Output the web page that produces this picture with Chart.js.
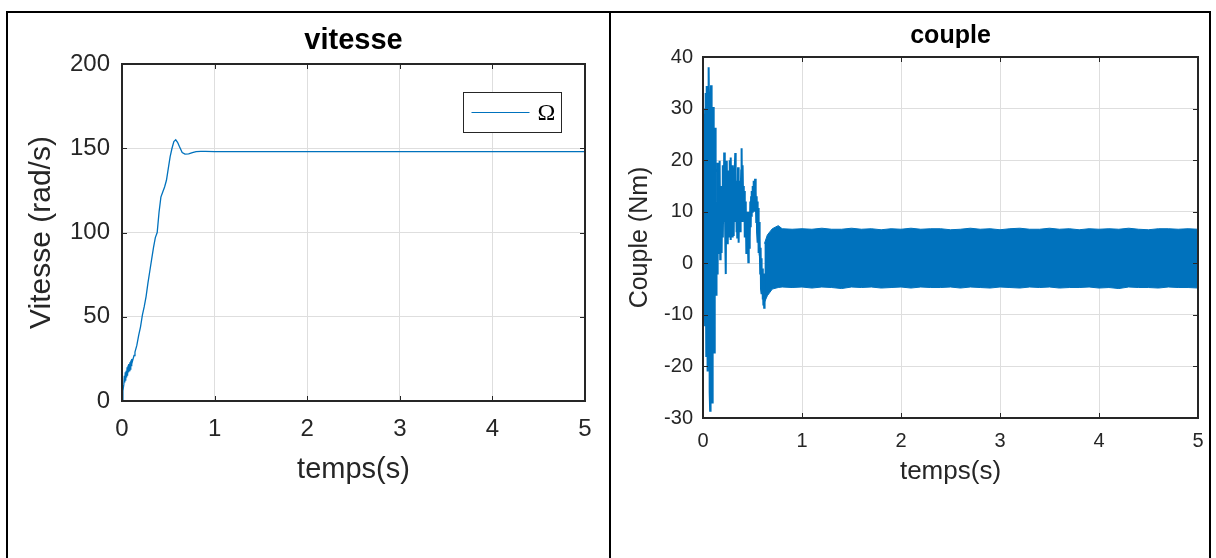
<!DOCTYPE html>
<html><head><meta charset="utf-8">
<script src="https://cdn.jsdelivr.net/npm/chart.js@4.4.1/dist/chart.umd.min.js"></script>
<style>
html,body{margin:0;padding:0;background:#fff;}
#wrap{position:relative;width:1216px;height:558px;overflow:hidden;background:#fff;}
canvas{position:absolute;top:0;}
.ln{position:absolute;background:#000;}
</style></head><body>
<div id="wrap">
<canvas id="c1" width="610" height="558" style="left:0"></canvas>
<canvas id="c2" width="606" height="558" style="left:610px"></canvas>
<div class="ln" style="left:6px;top:11px;width:1205px;height:2px"></div>
<div class="ln" style="left:6px;top:11px;width:2px;height:547px"></div>
<div class="ln" style="left:609px;top:11px;width:2px;height:547px"></div>
<div class="ln" style="left:1209px;top:11px;width:2px;height:547px"></div>
</div>
<script>
// ---- data ----
const xTicks = [0, 1, 2, 3, 4, 5];
const yTicksSpeed = [0, 50, 100, 150, 200];
const yTicksTorque = [-30, -20, -10, 0, 10, 20, 30, 40];
const speedLabel = 'Ω';

// speed (rad/s) vs time (s)
const tS = [0,0.01,0.02,0.025,0.03,0.035,0.04,0.045,0.05,0.055,
  0.06,0.065,0.07,0.075,0.08,0.085,0.09,0.095,0.10,0.105,
  0.11,0.12,0.13,0.14,0.16,0.18,0.20,0.22,0.24,0.26,
  0.28,0.30,0.32,0.34,0.36,0.38,0.40,0.42,0.44,0.46,
  0.48,0.50,0.52,0.54,0.56,0.58,0.60,0.62,0.65,0.68,
  0.72,0.76,0.80,0.85,0.90,1.0,1.5,2.0,2.5,3.0,
  3.5,4.0,4.5,5.0];
const vS = [0,6,10,15,11,17,12,18,14,20,
  15,21,17,22,18,23,19,24,21,25,
  23,25,27,29,33,39,44,51,56,62,
  70,77,84,91,97,100,112,121,124,127,
  131,138,145,150,154,155,153.5,151,147.5,146.5,
  146.6,147.4,148,148.2,148.1,148,148,148,148,148,
  148,148,148,148];

// torque transient (Nm) vs time (s): start-up part
const tT0 = [0,0.003,0.006,0.009,0.012,0.015,0.018,0.021,0.024,0.027,
  0.030,0.033,0.036,0.039,0.042,0.045,0.048,0.051,0.054,0.057,
  0.060,0.063,0.066,0.069,0.072,0.075,0.078,0.081,0.084,0.087,
  0.090,0.093,0.096,0.099,0.102,0.105,0.108,0.111,0.114,0.117,
  0.120,0.123,0.126,0.129,0.132,0.135,0.138];
const vT0 = [0,30,8,-10,25,29,-5,-12,20,33,
  10,-18,20,34.4,5,-21,10,30,22,-8,
  38,25,-12,-25,-28.6,10,30,34.5,5,-15,
  -22,-27,10,25,30.3,15,-8,-14,-17.3,5,
  18,22,26.3,12,0,-6.3,8];
// torque transient: oscillating part before steady state
const tT1 = [0.142,0.146,0.150,0.154,0.158,0.162,0.166,0.170,0.174,0.178,
  0.182,0.186,0.190,0.194,0.198,0.202,0.206,0.210,0.214,0.218,
  0.222,0.226,0.230,0.234,0.238,0.242,0.246,0.250,0.254,0.258,
  0.262,0.266,0.270,0.274,0.278,0.282,0.286,0.290,0.294,0.298,
  0.302,0.306,0.310,0.314,0.318,0.322,0.326,0.330,0.334,0.338,
  0.342,0.346,0.350,0.354,0.358,0.362,0.366,0.370,0.374,0.378,
  0.382,0.386,0.390,0.394,0.398,0.402,0.406,0.410,0.414,0.418,
  0.422,0.426,0.430,0.434,0.438,0.442,0.446,0.450,0.454,0.458,
  0.462,0.466,0.470,0.474,0.478,0.482,0.486,0.490,0.494,0.498,
  0.502,0.506,0.510,0.514,0.518,0.522,0.526,0.530,0.534,0.538,
  0.542,0.546,0.550,0.554,0.558,0.562,0.566,0.570,0.574,0.578,
  0.582,0.586,0.590,0.594,0.598,0.602,0.606,0.610,0.614,0.618,
  0.622];
const vT1 = [-2,19.5,8,2,14,7,17,19.9,0.8,12,
  6,15,2,13,19,5,14,8,21.5,9,
  15,3,-2.1,13,10,19.9,7,3.7,15,18,
  5,13,20,9,4.5,20.5,11,7,16,5,
  19,9,5.3,14,10,18,21.4,8,13,6,
  16,5,12,18.6,9,4,14,8,16,6,
  13,18,22.3,12,8,19,11,15,10.8,14,
  5,12,7,11,2,9,4,10,6,0.2,
  8,3,10,5,12,7,13,9,14,10,
  15,11,16,12,15,10,16.4,11,14,8,
  13,6,12,4,10.7,2,8,1.5,5,-2,
  3,-5,1,-6,-1,-7,-3,-8,-5,-8.6,
  -2];

// torque steady ripple band: upper / lower envelope (Nm)
const tB = [0.62,0.65,0.70,0.76,0.80,0.9,1.0,1.1,1.2,1.3,
  1.4,1.5,1.6,1.7,1.8,1.9,2.0,2.1,2.2,2.3,
  2.4,2.5,2.6,2.7,2.8,2.9,3.0,3.1,3.2,3.3,
  3.4,3.5,3.6,3.7,3.8,3.9,4.0,4.1,4.2,4.3,
  4.4,4.5,4.6,4.7,4.8,4.9,5.0];
const bandTop = [3.8,5.5,6.7,7.3,6.7,6.6,6.7,6.6,6.8,6.6,
  6.6,6.8,6.6,6.7,6.5,6.7,6.6,6.8,6.6,6.7,
  6.7,6.5,6.6,6.8,6.6,6.7,6.5,6.7,6.8,6.6,
  6.6,6.8,6.6,6.7,6.5,6.7,6.6,6.7,6.6,6.8,
  6.6,6.5,6.7,6.7,6.6,6.7,6.6];
const bandBot = [-7.6,-6.3,-5.0,-4.7,-4.6,-4.7,-4.6,-4.8,-4.6,-4.7,
  -4.9,-4.6,-4.7,-4.6,-4.8,-4.7,-4.6,-4.8,-4.6,-4.7,
  -4.7,-4.6,-4.8,-4.6,-4.7,-4.8,-4.6,-4.7,-4.8,-4.6,
  -4.7,-4.6,-4.8,-4.7,-4.7,-4.6,-4.8,-4.7,-4.9,-4.6,
  -4.7,-4.7,-4.8,-4.6,-4.7,-4.7,-4.8];

// ---- styling ----
const FF = '"Liberation Sans", Arial, Helvetica, sans-serif';
const BLUE = '#0072BD';
const GRID = '#dedede';
const AX = '#262626';

const framePlugin = {
  id: 'frame',
  afterDraw(chart, args, o) {
    const {ctx, chartArea: a, scales: {x, y}} = chart;
    ctx.save();
    ctx.strokeStyle = AX;
    ctx.lineWidth = 1;
    const L = o.len || 5;
    ctx.beginPath();
    x.ticks.forEach(t => {
      const px = Math.round(x.getPixelForValue(t.value)) + 0.5;
      ctx.moveTo(px, a.bottom); ctx.lineTo(px, a.bottom - L);
      ctx.moveTo(px, a.top); ctx.lineTo(px, a.top + L);
    });
    y.ticks.forEach(t => {
      const py = Math.round(y.getPixelForValue(t.value)) + 0.5;
      ctx.moveTo(a.left, py); ctx.lineTo(a.left + L, py);
      ctx.moveTo(a.right, py); ctx.lineTo(a.right - L, py);
    });
    ctx.stroke();
    ctx.lineWidth = 2;
    ctx.strokeRect(a.left, a.top, a.right - a.left, a.bottom - a.top);
    ctx.restore();
  }
};

const boxLegend = {
  id: 'boxLegend',
  afterDraw(chart, args, o) {
    if (!o || !o.show) return;
    const {ctx, chartArea: a} = chart;
    const ds = chart.data.datasets[0];
    const w = 98, h = 40;
    const x0 = Math.round(a.right - o.right - w) + 0.5, y0 = Math.round(a.top + o.top) + 0.5;
    ctx.save();
    ctx.fillStyle = '#fff';
    ctx.fillRect(x0, y0, w, h);
    ctx.strokeStyle = AX; ctx.lineWidth = 1;
    ctx.strokeRect(x0, y0, w, h);
    ctx.strokeStyle = ds.borderColor; ctx.lineWidth = 1.2;
    ctx.beginPath(); ctx.moveTo(x0 + 8, y0 + 20); ctx.lineTo(x0 + 66, y0 + 20); ctx.stroke();
    ctx.fillStyle = '#000';
    ctx.font = '24px "Liberation Serif", "Times New Roman", serif';
    ctx.textBaseline = 'middle'; ctx.textAlign = 'left';
    ctx.fillText(ds.label, x0 + 74, y0 + 21);
    ctx.restore();
  }
};

function pts(ts, vs) { return ts.map((t, i) => ({x: t, y: vs[i]})); }

function makeChart(id, c) {
  return new Chart(document.getElementById(id), {
    type: 'line',
    data: {datasets: c.datasets},
    options: {
      responsive: false, animation: false, devicePixelRatio: 1,
      layout: {padding: {left: 0, right: c.padRight, top: 0, bottom: 0}},
      elements: {point: {radius: 0}},
      plugins: {
        legend: {display: false}, tooltip: {enabled: false},
        title: {display: true, text: c.title, fullSize: false, color: '#000',
          font: {family: FF, size: c.titleSize, weight: 'bold', lineHeight: 1.2},
          padding: {top: c.titlePadTop, bottom: c.titlePadBottom}},
        frame: {len: 5},
        boxLegend: c.legend || {show: false}
      },
      scales: {
        x: {
          type: 'linear', min: 0, max: 5,
          afterBuildTicks: s => { s.ticks = xTicks.map(v => ({value: v})); },
          afterFit: s => { s.height = c.xH; },
          grid: {color: GRID, drawTicks: false, lineWidth: 1},
          border: {display: false},
          ticks: {color: AX, font: {family: FF, size: c.tickSize}, padding: c.xTickPad, maxRotation: 0, autoSkip: false},
          title: {display: true, text: 'temps(s)', color: AX, font: {family: FF, size: c.xLabSize, lineHeight: 1.2},
            padding: {top: 0, bottom: c.xTitlePadBottom}}
        },
        y: {
          type: 'linear', min: c.yMin, max: c.yMax,
          afterBuildTicks: s => { s.ticks = c.yTicks.map(v => ({value: v})); },
          afterFit: s => { s.width = c.yW; },
          grid: {color: GRID, drawTicks: false, lineWidth: 1},
          border: {display: false},
          ticks: {color: AX, font: {family: FF, size: c.tickSize}, padding: c.yTickPad, autoSkip: false},
          title: {display: true, text: c.yTitle, color: AX, font: {family: FF, size: c.yLabSize, lineHeight: 1.2},
            padding: {top: c.yTitlePadTop, bottom: 0}}
        }
      }
    },
    plugins: [framePlugin, boxLegend]
  });
}

makeChart('c1', {
  title: 'vitesse', titleSize: 29, titlePadTop: 23.6, titlePadBottom: 5.6,
  padRight: 25, xH: 157, yW: 122,
  tickSize: 24, xLabSize: 29, yLabSize: 30, xTickPad: 14, yTickPad: 12,
  xTitlePadBottom: 70.6, yTitlePadTop: 24,
  yMin: 0, yMax: 200, yTicks: yTicksSpeed, yTitle: 'Vitesse (rad/s)',
  legend: {show: true, right: 24, top: 28},
  datasets: [{label: speedLabel, data: pts(tS, vS), borderColor: BLUE, borderWidth: 1.3,
    tension: 0, fill: false}]
});

makeChart('c2', {
  title: 'couple', titleSize: 25, titlePadTop: 21, titlePadBottom: 6,
  padRight: 18, xH: 140, yW: 93,
  tickSize: 20, xLabSize: 26, yLabSize: 25, xTickPad: 11, yTickPad: 10,
  xTitlePadBottom: 70.4, yTitlePadTop: 15,
  yMin: -30, yMax: 40, yTicks: yTicksTorque, yTitle: 'Couple (Nm)',
  datasets: [
    {label: 'couple', data: pts(tT0.concat(tT1), vT0.concat(vT1)), borderColor: BLUE, borderWidth: 2, fill: false, tension: 0},
    {label: 'enveloppe haute', data: pts(tB, bandTop), borderColor: BLUE, borderWidth: 1, fill: false, tension: 0},
    {label: 'enveloppe basse', data: pts(tB, bandBot), borderColor: BLUE, borderWidth: 1, backgroundColor: BLUE, fill: '-1', tension: 0}
  ]
});
</script>
</body></html>
